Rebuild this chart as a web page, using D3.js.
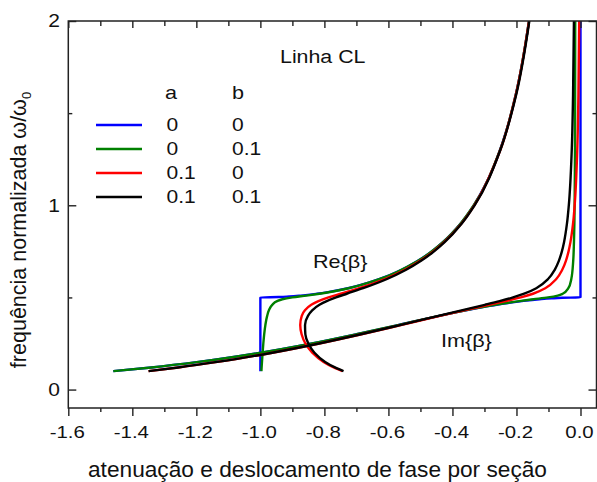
<!DOCTYPE html>
<html><head><meta charset="utf-8">
<script src="https://cdn.jsdelivr.net/npm/d3@7"></script>
<style>
body{margin:0;background:#fff}
text{font-family:"Liberation Sans",Arial,sans-serif;fill:#111}
</style>
</head><body>
<svg id="c" width="597" height="482"></svg>
<script>
// ---- tick values / labels ----
const xMajorTicks = [-1.6, -1.4, -1.2, -1.0, -0.8, -0.6, -0.4, -0.2, 0.0];
const xTickLabels = ["-1.6", "-1.4", "-1.2", "-1.0", "-0.8", "-0.6", "-0.4", "-0.2", "0.0"];
const xMinorTicks = [-1.5, -1.3, -1.1, -0.9, -0.7, -0.5, -0.3, -0.1];
const yMajorTicks = [0, 1, 2];
const yTickLabels = ["0", "1", "2"];
const yMinorTicks = [0.5, 1.5];

// ---- legend ----
const legendA = ["0", "0", "0.1", "0.1"];
const legendB = ["0", "0.1", "0", "0.1"];

// ---- series: a=0, b=0 (blue) ----
const blueFreq = [0.1, 0.12, 0.15, 0.2, 0.25, 0.3, 0.35, 0.4, 0.45, 0.47, 0.48, 0.49, 0.495, 0.498,
  0.5, 0.502, 0.505, 0.51, 0.52, 0.53, 0.55, 0.58, 0.6, 0.65, 0.7, 0.75, 0.8, 0.9, 1.0, 1.1, 1.2, 1.4, 1.6, 1.8, 2.0];
const blueRe = [-1, -1, -1, -1, -1, -1, -1, -1, -1, -1, -1, -1, -1, -1,
  -1, -0.9432, -0.9103, -0.8737, -0.8229, -0.7852, -0.7264, -0.6617, -0.6271, -0.5587, -0.5065, -0.4646,
  -0.4298, -0.3750, -0.3333, -0.3004, -0.2736, -0.2325, -0.2023, -0.1792, -0.1609];
const blueIm = [-1.4594, -1.3404, -1.1929, -0.9975, -0.8384, -0.6994, -0.5702, -0.4413, -0.2974, -0.2263,
  -0.1831, -0.1284, -0.0904, -0.0570, 0, 0, 0, 0, 0, 0, 0, 0, 0, 0, 0, 0, 0, 0, 0, 0, 0, 0, 0, 0, 0];

// ---- series: a=0, b=0.1 (green) ----
const greenFreq = [0.1, 0.12, 0.15, 0.2, 0.25, 0.3, 0.35, 0.4, 0.43, 0.46, 0.48, 0.49, 0.5, 0.51, 0.52, 0.55,
  0.6, 0.7, 0.8, 0.9, 1.0, 1.3, 1.6, 2.0];
const greenRe = [-0.9968, -0.9961, -0.9950, -0.9930, -0.9908, -0.9881, -0.9844, -0.9788, -0.9733, -0.9631,
  -0.9478, -0.9314, -0.9002, -0.8563, -0.8153, -0.7245, -0.6266, -0.5065, -0.4298, -0.3750, -0.3333,
  -0.2513, -0.2023, -0.1609];
const greenIm = [-1.4594, -1.3404, -1.1929, -0.9975, -0.8384, -0.6994, -0.5702, -0.4421, -0.3599, -0.2667,
  -0.1913, -0.1467, -0.1015, -0.0710, -0.0556, -0.0379, -0.0287, -0.0227, -0.0204, -0.0191, -0.0184,
  -0.0172, -0.0168, -0.0164];

// ---- series: a=0.1, b=0 (red) ----
const redFreq = [0.1, 0.12, 0.15, 0.2, 0.25, 0.3, 0.35, 0.4, 0.43, 0.46, 0.48, 0.5, 0.52, 0.55, 0.6, 0.65,
  0.7, 0.75, 0.8, 0.9, 1.0, 1.3, 1.6, 2.0];
const redRe = [-0.7434, -0.7709, -0.8026, -0.8379, -0.8593, -0.8712, -0.8755, -0.8707, -0.8608, -0.8410,
  -0.8186, -0.7871, -0.7491, -0.6914, -0.6110, -0.5491, -0.5000, -0.4599, -0.4262, -0.3724, -0.3318,
  -0.2506, -0.2019, -0.1607];
const redIm = [-1.3492, -1.2566, -1.1346, -0.9625, -0.8157, -0.6844, -0.5611, -0.4392, -0.3639, -0.2859,
  -0.2340, -0.1865, -0.1485, -0.1101, -0.0756, -0.0570, -0.0453, -0.0373, -0.0314, -0.0233, -0.0182,
  -0.0101, -0.0065, -0.0041];

// ---- series: a=0.1, b=0.1 (black) ----
const blackFreq = [0.1, 0.12, 0.15, 0.2, 0.25, 0.3, 0.35, 0.4, 0.43, 0.46, 0.48, 0.5, 0.52, 0.55, 0.6, 0.65,
  0.7, 0.75, 0.8, 0.9, 1.0, 1.3, 1.6, 2.0];
const blackRe = [-0.7402, -0.7669, -0.7976, -0.8310, -0.8501, -0.8595, -0.8605, -0.8513, -0.8381, -0.8154,
  -0.7927, -0.7636, -0.7302, -0.6789, -0.6042, -0.5447, -0.4969, -0.4575, -0.4244, -0.3715, -0.3309,
  -0.2504, -0.2009, -0.1598];
const blackIm = [-1.3493, -1.2568, -1.1348, -0.9629, -0.8165, -0.6857, -0.5635, -0.4440, -0.3717, -0.2991,
  -0.2526, -0.2106, -0.1759, -0.1382, -0.1013, -0.0805, -0.0673, -0.0581, -0.0514, -0.0423, -0.0365,
  -0.0273, -0.0232, -0.0205];

const series = [
  {color: "#0000ff", freq: blueFreq, re: blueRe, im: blueIm},
  {color: "#008000", freq: greenFreq, re: greenRe, im: greenIm},
  {color: "#ff0000", freq: redFreq, re: redRe, im: redIm},
  {color: "#000000", freq: blackFreq, re: blackRe, im: blackIm}
];

const svg = d3.select("#c");
const L = 68.3, R = 596.5, T = 21, B = 408;
const x = d3.scaleLinear().domain([-1.6, 0.05]).range([L, R]);
const y = d3.scaleLinear().domain([-0.1, 2]).range([B, T]);
const SX = 1.2; // horizontal text stretch seen in the reference

function label(px, py, str, size, anchor) {
  return svg.append("text")
    .attr("transform", `translate(${px},${py}) scale(${SX},1)`)
    .attr("text-anchor", anchor || "start")
    .attr("font-size", size).text(str);
}

svg.append("defs").append("clipPath").attr("id", "clip")
  .append("rect").attr("x", L).attr("y", T).attr("width", R - L).attr("height", B - T);

// curves
const line = d3.line().x(d => x(d[0])).y(d => y(d[1])).curve(d3.curveMonotoneY);
const gCurves = svg.append("g").attr("clip-path", "url(#clip)");
series.forEach(s => {
  const rePts = s.freq.map((f, i) => [s.re[i], f]);
  const imPts = s.freq.map((f, i) => [s.im[i], f]);
  [rePts, imPts].forEach(p => {
    gCurves.append("path").attr("d", line(p)).attr("fill", "none")
      .attr("stroke", s.color).attr("stroke-width", 2.4).attr("stroke-linejoin", "round");
  });
});

// axes (ticks only)
const axisColor = "#222";
function styleAxis(g) {
  g.select(".domain").remove();
  g.selectAll("line").attr("stroke", axisColor).attr("stroke-width", 1.4);
  g.selectAll("text").remove();
}
svg.append("g").attr("transform", `translate(0,${B})`)
  .call(d3.axisBottom(x).tickValues(xMajorTicks).tickSize(8)).call(styleAxis);
svg.append("g").attr("transform", `translate(0,${B})`)
  .call(d3.axisBottom(x).tickValues(xMinorTicks).tickSize(4)).call(styleAxis);
svg.append("g").attr("transform", `translate(0,${T})`)
  .call(d3.axisTop(x).tickValues(xMajorTicks).tickSize(-7)).call(styleAxis);
svg.append("g").attr("transform", `translate(0,${T})`)
  .call(d3.axisTop(x).tickValues(xMinorTicks).tickSize(-5)).call(styleAxis);
svg.append("g").attr("transform", `translate(${L},0)`)
  .call(d3.axisLeft(y).tickValues(yMajorTicks).tickSize(-8)).call(styleAxis);
svg.append("g").attr("transform", `translate(${L},0)`)
  .call(d3.axisLeft(y).tickValues(yMinorTicks).tickSize(-4)).call(styleAxis);
svg.append("g").attr("transform", `translate(${R},0)`)
  .call(d3.axisRight(y).tickValues(yMajorTicks).tickSize(-8)).call(styleAxis);
svg.append("g").attr("transform", `translate(${R},0)`)
  .call(d3.axisRight(y).tickValues(yMinorTicks).tickSize(-4)).call(styleAxis);

// frame
svg.append("rect").attr("x", L).attr("y", T).attr("width", R - L).attr("height", B - T)
  .attr("fill", "none").attr("stroke", axisColor).attr("stroke-width", 1.5);

// tick labels
xMajorTicks.forEach((d, i) => label(x(d) - 1, 438, xTickLabels[i], 17, "middle"));
yMajorTicks.forEach((d, i) => label(60, y(d) + 6.3, yTickLabels[i], 17.5, "end"));

// axis titles
svg.append("text").attr("x", 317.5).attr("y", 477).attr("text-anchor", "middle")
  .attr("font-size", 21.5).attr("textLength", 459).attr("lengthAdjust", "spacingAndGlyphs")
  .text("atenuação e deslocamento de fase por seção");
const yt = svg.append("text").attr("transform", "translate(26,230) rotate(-90)")
  .attr("text-anchor", "middle").attr("font-size", 21.5);
yt.append("tspan").text("frequência normalizada ω/ω");
yt.append("tspan").attr("font-size", 13).attr("dy", 5).text("0");

// annotations
label(280, 63, "Linha CL", 17.8);
label(313, 268, "Re{β}", 18);
label(441, 347, "Im{β}", 18);

// legend
label(165, 99, "a", 18);
label(232, 99, "b", 18);
const rowY = [125, 149, 173, 197];
series.forEach((s, i) => {
  svg.append("line").attr("x1", 96).attr("x2", 142).attr("y1", rowY[i]).attr("y2", rowY[i])
    .attr("stroke", s.color).attr("stroke-width", 2.6);
  label(166.5, rowY[i] + 6.3, legendA[i], 17.5);
  label(232, rowY[i] + 6.3, legendB[i], 17.5);
});
</script>
</body></html>
